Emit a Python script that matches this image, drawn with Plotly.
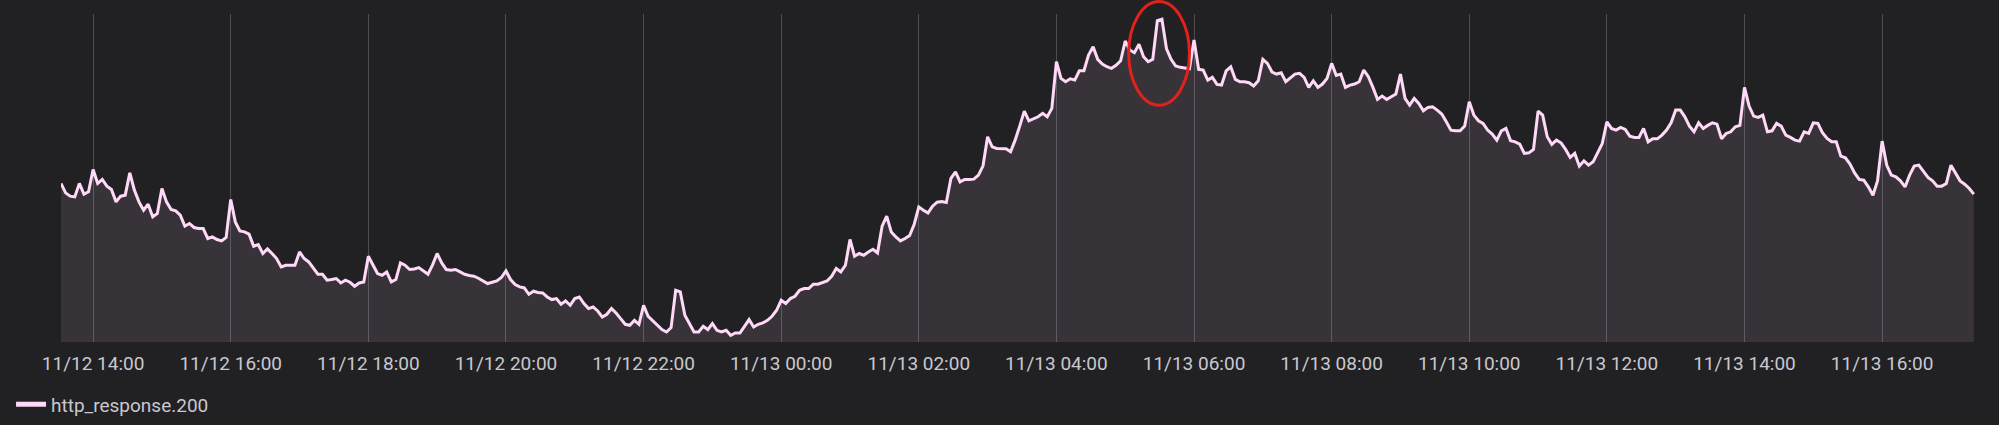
import pandas as pd
import plotly.graph_objects as go

# ---- data (4-minute samples starting 11/12 13:32) ----
series_name = "http_response.200"
start_time = "2023-11-12 13:32"
step = "4min"

block_1332 = [158.4, 149.0, 145.7, 145.0, 158.4, 147.7, 150.0, 172.4, 158.4, 162.4,
              155.7, 152.4, 140.0, 145.7, 146.7, 169.0, 151.7, 140.0, 131.7, 137.7,
              125.0, 128.4, 153.4, 140.0, 132.4, 131.0, 126.7, 115.7, 118.4, 114.4,
              113.4, 113.4, 103.4, 105.0, 102.4, 101.0, 104.4, 142.4, 120.0, 111.0,
              110.0, 107.7, 95.7, 97.4, 88.4, 93.0, 88.4, 83.4, 75.0, 76.7,
              76.7, 76.7, 90.0, 83.4, 80.0, 74.4, 67.7, 67.7, 61.7]
block_1728 = [62.4, 63.4, 59.0, 61.7, 59.7, 55.7, 59.0, 60.0, 85.7, 76.7,
              68.4, 66.7, 70.0, 60.0, 62.4, 79.0, 76.7, 72.4, 73.0, 74.4,
              71.0, 67.7, 77.0, 88.4, 79.0, 72.4, 71.7, 72.4, 70.0, 67.7,
              66.4, 65.7, 63.7, 61.0, 58.4, 59.7, 61.0, 64.4, 71.0, 62.4,
              57.4, 55.0, 54.0, 47.7, 50.7, 49.4, 49.0, 45.0, 42.4, 43.4,
              37.7, 41.0, 36.7, 43.4, 45.0, 38.4, 33.4, 35.0, 31.0, 25.0]
block_2128 = [27.7, 33.4, 29.0, 23.4, 17.7, 16.7, 21.7, 17.7, 36.7, 25.7,
              21.0, 16.7, 12.4, 10.0, 14.4, 51.7, 50.0, 26.7, 17.7, 10.0,
              10.0, 15.7, 12.4, 18.4, 11.7, 10.0, 11.7, 6.7, 9.0, 9.0,
              15.7, 22.4, 15.0, 17.7, 19.0, 21.7, 25.7, 31.7, 41.7, 38.4,
              43.4, 45.7, 51.7, 53.4, 53.4, 57.7, 57.7, 59.0, 61.0, 65.7,
              73.4, 70.0, 76.7, 102.4, 85.7, 88.4, 86.7, 90.0, 92.7, 89.0]
block_0128 = [115.7, 125.7, 110.0, 105.0, 101.0, 103.4, 106.4, 117.7, 135.0, 131.7,
              129.0, 135.7, 139.7, 140.4, 139.4, 163.4, 170.0, 160.0, 162.4, 162.4,
              162.7, 166.7, 176.0, 205.0, 195.0, 193.4, 193.4, 193.0, 190.0, 201.7,
              215.7, 230.7, 221.0, 222.7, 225.0, 228.4, 225.0, 233.4, 280.0, 263.4,
              260.0, 263.0, 261.7, 271.0, 271.0, 286.7, 295.0, 282.4, 277.7, 275.0,
              273.4, 276.4, 281.0, 300.7, 291.7, 289.0, 297.4, 285.0, 280.0, 282.4]
block_0528 = [321.0, 322.4, 293.0, 282.4, 275.7, 274.4, 273.7, 273.0, 301.7, 272.4,
              271.7, 261.7, 264.4, 257.4, 256.7, 271.0, 275.0, 262.4, 260.0, 260.0,
              259.0, 255.7, 261.0, 282.4, 278.4, 269.7, 267.7, 269.0, 260.0, 263.4,
              267.7, 268.4, 264.4, 254.4, 261.0, 254.4, 257.7, 263.4, 278.4, 266.4,
              267.7, 254.4, 256.7, 257.7, 260.0, 271.7, 265.0, 254.4, 242.4, 245.7,
              242.4, 245.0, 247.7, 267.7, 243.4, 236.7, 243.4, 238.4, 231.0, 234.4]
block_0928 = [235.0, 231.7, 227.7, 220.0, 211.7, 211.0, 211.0, 215.7, 240.0, 226.7,
              221.0, 218.4, 211.7, 207.7, 201.7, 211.0, 213.4, 201.0, 200.0, 197.7,
              188.4, 189.0, 192.4, 230.7, 226.7, 205.0, 197.4, 201.7, 199.0, 192.4,
              184.4, 188.4, 175.7, 181.0, 176.7, 180.0, 190.0, 198.4, 220.0, 213.4,
              211.7, 214.4, 212.4, 205.7, 204.4, 204.4, 213.4, 200.0, 203.0, 203.0,
              206.7, 211.7, 219.0, 231.7, 231.7, 225.0, 215.7, 210.0, 219.0, 213.4]
block_1328 = [216.4, 219.0, 217.7, 203.0, 208.4, 210.0, 215.0, 216.4, 254.4, 235.7,
              225.7, 224.4, 226.7, 210.0, 211.0, 218.4, 215.7, 206.7, 204.4, 201.7,
              200.7, 210.0, 208.4, 219.0, 218.4, 209.0, 203.4, 200.0, 200.0, 185.7,
              184.0, 177.7, 169.0, 162.4, 161.7, 155.0, 146.7, 161.0, 200.7, 176.7,
              166.7, 165.0, 161.0, 155.0, 166.7, 175.7, 176.7, 170.0, 164.4, 161.0,
              155.7, 155.7, 158.4, 176.7, 168.4, 161.0, 157.7, 153.4, 147.7]

values = (block_1332 + block_1728 + block_2128 + block_0128 +
          block_0528 + block_0928 + block_1328)
times = pd.date_range(start_time, periods=len(values), freq=step)

x_range = ["2023-11-12 13:32", "2023-11-13 17:21"]
y_range = [0, 327.7]

# ---- styling ----
BG = "#212124"
LINE = "#ffd9f7"
FILL = "rgba(255,217,247,0.10)"
GRID = "#4d4d53"
TEXT = "#c8c8ce"
FONT = "Roboto"

fig = go.Figure()
fig.add_trace(go.Scatter(
    x=times, y=values, mode="lines", name=series_name,
    line=dict(color=LINE, width=3), fill="tozeroy", fillcolor=FILL,
    showlegend=False, hoverinfo="x+y",
))
# legend entry (line swatch only)
fig.add_trace(go.Scatter(
    x=[None], y=[None], mode="lines", name=series_name,
    line=dict(color=LINE, width=5), showlegend=True,
))

fig.update_layout(
    width=1999, height=425,
    paper_bgcolor=BG, plot_bgcolor=BG,
    margin=dict(l=61, r=24, t=14, b=83, autoexpand=False),
    font=dict(family=FONT, size=19, color=TEXT),
    legend=dict(orientation="h", x=-0.0261, xanchor="left", y=-0.19, yanchor="middle",
                bgcolor="rgba(0,0,0,0)", font=dict(family=FONT, size=19, color=TEXT),
                itemwidth=30),
    xaxis=dict(type="date", range=x_range, showgrid=True, gridcolor=GRID, gridwidth=1,
               tick0="2023-11-12 00:00", dtick=2 * 3600 * 1000, tickformat="%m/%d %H:%M",
               showline=False, zeroline=False, ticks="outside", ticklen=4,
               tickcolor="rgba(0,0,0,0)", tickfont=dict(family=FONT, size=19, color=TEXT)),
    yaxis=dict(range=y_range, showgrid=False, zeroline=False, showticklabels=False, showline=False),
    shapes=[dict(type="circle", xref="x", yref="paper",
                 x0="2023-11-13 05:03", x1="2023-11-13 05:56", y0=0.722, y1=1.038,
                 line=dict(color="#e3211c", width=3), layer="above")],
)

fig.write_html(
    "out.html",
    config={"displayModeBar": False},
    post_script="document.body.style.margin='0';document.body.style.background='#212124';"
                "document.body.style.overflow='hidden';",
)
